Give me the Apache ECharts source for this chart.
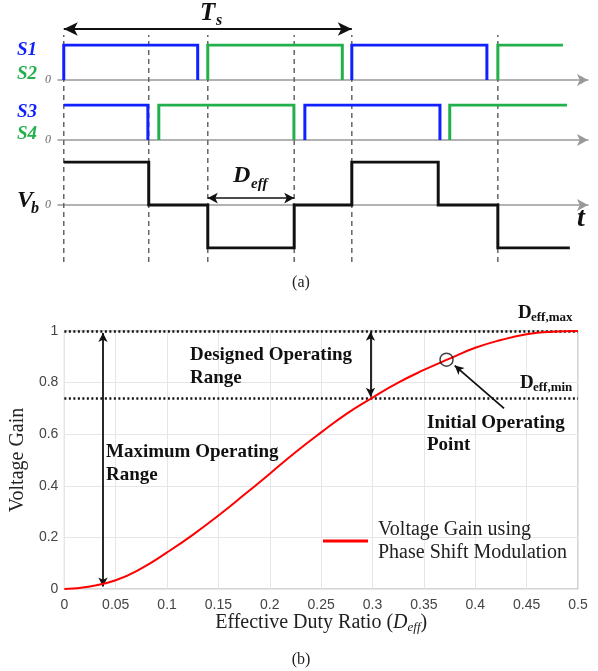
<!DOCTYPE html>
<html><head><meta charset="utf-8">
<script src="https://cdn.jsdelivr.net/npm/echarts@6/dist/echarts.min.js"></script>
<style>html,body{margin:0;padding:0;background:#fff}#c{width:598px;height:671px}</style>
</head><body><div id="c"></div>
<script>
// ---------------- data ----------------
// (a) switching waveforms, time in units of Ts
const switchEdges = [0, 0.295, 0.5, 0.8, 1.0, 1.507];
const periodSpan = [0, 1];
const deffSpan = [0.5, 0.8];
const s1Wave = [[0,0],[0,1],[0.465,1],[0.465,0],null,[1.0,0],[1.0,1],[1.469,1],[1.469,0]];
const s2Wave = [[0.5,0],[0.5,1],[0.967,1],[0.967,0],null,[1.507,0],[1.507,1],[1.733,1]];
const s3Wave = [[0,1],[0.292,1],[0.292,0],null,[0.837,0],[0.837,1],[1.306,1],[1.306,0]];
const s4Wave = [[0.33,0],[0.33,1],[0.799,1],[0.799,0],null,[1.34,0],[1.34,1],[1.747,1]];
const vbWave = [[0,1],[0.295,1],[0.295,0],[0.5,0],[0.5,-1],[0.8,-1],[0.8,0],[1.0,0],[1.0,1],[1.3,1],[1.3,0],[1.507,0],[1.507,-1],[1.757,-1]];

// (b) voltage gain vs effective duty ratio
const dutyRatio   = [0, 0.025, 0.05, 0.075, 0.1, 0.125, 0.15, 0.175, 0.2, 0.225, 0.25, 0.275, 0.3, 0.325, 0.35, 0.375, 0.4, 0.425, 0.45, 0.475, 0.5];
const voltageGain = [0, 0.01, 0.034, 0.08, 0.142, 0.21, 0.285, 0.365, 0.447, 0.53, 0.607, 0.68, 0.742, 0.80, 0.849, 0.893, 0.935, 0.965, 0.987, 0.997, 1.0];
const xTickLabels = ['0','0.05','0.1','0.15','0.2','0.25','0.3','0.35','0.4','0.45','0.5'];
const yTickLabels = ['0','0.2','0.4','0.6','0.8','1'];
const deffMaxGain = 1.0;
const deffMinGain = 0.74;
const maxRangeArrow = { d: 0.0376, from: 0.992, to: 0.01 };
const designedRangeArrow = { d: 0.298, from: 0.997, to: 0.745 };
const initialPoint = [0.372, 0.889];
const pointerFrom = [0.428, 0.70];
const pointerTo = [0.380, 0.866];

// ---------------- chart ----------------
const SERIF = "'Liberation Serif','DejaVu Serif',serif";
const SANS = "'Liberation Sans',Arial,sans-serif";
const BLUE = '#1020ff', GREEN = '#22b04c';

function wave(arr){
  const out = [];
  let lastX = 0;
  arr.forEach(p => { if (p === null) out.push([lastX, '-']); else { out.push(p); lastX = p[0]; } });
  return out;
}
const dashedData = [];
switchEdges.forEach(t => { dashedData.push([t, 0], [t, 0.974], [t, '-']); });

const tMin = -0.02, tMax = 1.82;
function timeX(idx, showLine){
  return { gridIndex: idx, type: 'value', min: tMin, max: tMax,
    axisLine: { show: showLine, onZero: true, symbol: ['none','arrow'], symbolSize: [9, 11],
      lineStyle: { color: '#999', width: 1.5 } },
    axisTick: { show: false }, axisLabel: { show: false }, splitLine: { show: false } };
}
function levelY(idx, min, max, showZero){
  return { gridIndex: idx, type: 'value', min: min, max: max, interval: 1,
    axisLine: { show: false }, axisTick: { show: false }, splitLine: { show: false },
    axisLabel: { show: showZero, margin: 7, formatter: v => (v === 0 ? '0' : ''),
      fontFamily: SERIF, fontStyle: 'italic', fontSize: 12, color: '#666' } };
}
function waveSeries(name, xi, data, color, z){
  return { name: name, type: 'line', xAxisIndex: xi, yAxisIndex: xi, data: wave(data),
    symbol: 'none', silent: true, connectNulls: false, z: z || 3,
    lineStyle: { color: color, width: 3, join: 'miter', cap: 'butt' } };
}
function txt(text, x, y, font, fill, align){
  return { type: 'text', x: x, y: y, silent: true, z: 100,
    style: { text: text, font: font, fill: fill || '#111', align: align || 'left', verticalAlign: 'middle' } };
}

const chart = echarts.init(document.getElementById('c'), null, { renderer: 'canvas' });
const option = {
  animation: false,
  backgroundColor: '#fff',
  grid: [
    { left: 58, width: 530, top: 45, height: 35 },
    { left: 58, width: 530, top: 105, height: 35 },
    { left: 58, width: 530, top: 162, height: 86 },
    { left: 58, width: 530, top: 29, height: 233 },
    { left: 59, right: 20, top: 331, height: 258, show: true, borderColor: '#aaa', borderWidth: 1, backgroundColor: 'transparent' }
  ],
  xAxis: [
    timeX(0, true), timeX(1, true), timeX(2, true), timeX(3, false),
    { gridIndex: 4, type: 'value', min: 0, max: 0.5, interval: 0.05,
      axisLine: { show: false }, axisTick: { show: false },
      splitLine: { show: true, lineStyle: { color: '#e6e6e6', width: 1 } },
      axisLabel: { margin: 9, fontFamily: SANS, fontSize: 14, color: '#444',
        formatter: v => xTickLabels[Math.round(v / 0.05)] },
      name: '{n|Effective Duty Ratio (}{d|D}{e|eff}{n|)}', nameLocation: 'middle', nameGap: 19,
      nameTextStyle: { rich: {
        n: { fontFamily: SERIF, fontSize: 20, color: '#222', lineHeight: 22 },
        d: { fontFamily: SERIF, fontSize: 20, fontStyle: 'italic', color: '#222', lineHeight: 22 },
        e: { fontFamily: SERIF, fontSize: 13, fontStyle: 'italic', color: '#222', lineHeight: 8, verticalAlign: 'bottom' }
      } } }
  ],
  yAxis: [
    levelY(0, 0, 1, true), levelY(1, 0, 1, true), levelY(2, -1, 1, true),
    { gridIndex: 3, type: 'value', min: 0, max: 1, show: false },
    { gridIndex: 4, type: 'value', min: 0, max: 1, interval: 0.2,
      axisLine: { show: false }, axisTick: { show: false },
      splitLine: { show: true, lineStyle: { color: '#e6e6e6', width: 1 } },
      axisLabel: { margin: 6, fontFamily: SANS, fontSize: 14, color: '#444',
        formatter: v => yTickLabels[Math.round(v / 0.2)] },
      name: 'Voltage Gain', nameLocation: 'middle', nameGap: 25,
      nameTextStyle: { fontFamily: SERIF, fontSize: 20, color: '#222' } }
  ],
  legend: {
    data: [{ name: 'Voltage Gain using Phase Shift Modulation', icon: 'rect' }],
    left: 323, top: 518, padding: 0, itemWidth: 45, itemHeight: 3, selectedMode: false,
    formatter: () => 'Voltage Gain using\nPhase Shift Modulation',
    textStyle: { fontFamily: SERIF, fontSize: 20, color: '#222', lineHeight: 23, padding: [0, 0, 0, 5] }
  },
  series: [
    // dashed switching instants + Ts arrow
    { name: 'edges', type: 'line', xAxisIndex: 3, yAxisIndex: 3, data: dashedData, symbol: 'none',
      silent: true, connectNulls: false, z: 1,
      lineStyle: { color: '#666', width: 1.5, type: [5, 4] },
      markLine: { silent: true, symbol: ['arrow', 'arrow'], symbolSize: [10, 14], label: { show: false },
        lineStyle: { color: '#111', width: 2, type: 'solid' },
        data: [[{ coord: [periodSpan[0], 1] }, { coord: [periodSpan[1], 1] }]] } },
    waveSeries('S1', 0, s1Wave, BLUE, 4),
    waveSeries('S2', 0, s2Wave, GREEN, 4),
    waveSeries('S3', 1, s3Wave, BLUE, 4),
    waveSeries('S4', 1, s4Wave, GREEN, 4),
    Object.assign(waveSeries('Vb', 2, vbWave, '#111', 4), {
      markLine: { silent: true, symbol: ['arrow', 'arrow'], symbolSize: [8, 10], label: { show: false },
        lineStyle: { color: '#111', width: 1.5, type: 'solid' },
        data: [[{ coord: [deffSpan[0], 0.16] }, { coord: [deffSpan[1], 0.16] }]] } }),
    // (b) curve
    { name: 'Voltage Gain using Phase Shift Modulation', type: 'line', xAxisIndex: 4, yAxisIndex: 4,
      data: dutyRatio.map((d, i) => [d, voltageGain[i]]), smooth: true, symbol: 'none', showSymbol: false, silent: true, z: 5,
      lineStyle: { color: '#ff0000', width: 2 }, itemStyle: { color: '#ff0000' },
      markLine: { silent: true, symbol: 'none', label: { show: false },
        lineStyle: { color: '#111', width: 2.5, type: [2, 2.5] },
        data: [{ yAxis: deffMaxGain }, { yAxis: deffMinGain }] } },
    { name: 'initial', type: 'scatter', xAxisIndex: 4, yAxisIndex: 4, data: [initialPoint],
      symbol: 'circle', symbolSize: 13, silent: true, z: 6,
      itemStyle: { color: 'rgba(0,0,0,0)', borderColor: '#111', borderWidth: 1.5 },
      markLine: { silent: true, label: { show: false },
        lineStyle: { color: '#111', width: 1.8, type: 'solid' },
        data: [
          [{ coord: [maxRangeArrow.d, maxRangeArrow.from], symbol: 'arrow', symbolSize: [7, 9] },
           { coord: [maxRangeArrow.d, maxRangeArrow.to], symbol: 'arrow', symbolSize: [7, 9] }],
          [{ coord: [designedRangeArrow.d, designedRangeArrow.from], symbol: 'arrow', symbolSize: [7, 9] },
           { coord: [designedRangeArrow.d, designedRangeArrow.to], symbol: 'arrow', symbolSize: [7, 9] }],
          [{ coord: pointerFrom, symbol: 'none' }, { coord: pointerTo, symbol: 'arrow', symbolSize: [7, 9] }]
        ] } }
  ],
  graphic: [
    txt('S1', 17, 50, 'bold italic 19px ' + SERIF, BLUE),
    txt('S2', 17, 74, 'bold italic 19px ' + SERIF, GREEN),
    txt('S3', 17, 112, 'bold italic 19px ' + SERIF, BLUE),
    txt('S4', 17, 134, 'bold italic 19px ' + SERIF, GREEN),
    txt('V', 17, 201, 'bold italic 24px ' + SERIF),
    txt('b', 31, 209, 'bold italic 16px ' + SERIF),
    txt('T', 200, 14, 'bold italic 25px ' + SERIF),
    txt('s', 216, 21, 'bold italic 16px ' + SERIF),
    txt('D', 233, 176, 'bold italic 24px ' + SERIF),
    txt('eff', 251, 184, 'bold italic 15px ' + SERIF),
    txt('t', 577, 219, 'bold italic 28px ' + SERIF),
    txt('(a)', 301, 283, '16px ' + SERIF, '#222', 'center'),
    txt('(b)', 301, 660, '16px ' + SERIF, '#222', 'center'),
    txt('Designed Operating', 190, 355, 'bold 19px ' + SERIF),
    txt('Range', 190, 378, 'bold 19px ' + SERIF),
    txt('Maximum Operating', 106, 452, 'bold 19px ' + SERIF),
    txt('Range', 106, 475, 'bold 19px ' + SERIF),
    txt('Initial Operating', 427, 423, 'bold 19px ' + SERIF),
    txt('Point', 427, 445, 'bold 19px ' + SERIF),
    txt('D', 518, 313, 'bold 19px ' + SERIF),
    txt('eff,max', 531, 318, 'bold 13px ' + SERIF),
    txt('D', 520, 383, 'bold 19px ' + SERIF),
    txt('eff,min', 533, 388, 'bold 13px ' + SERIF)
  ]
};
chart.setOption(option);
</script></body></html>
